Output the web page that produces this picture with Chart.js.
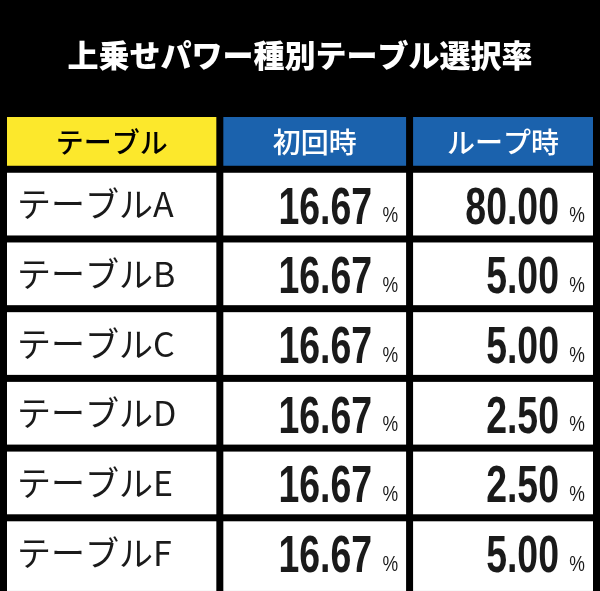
<!DOCTYPE html>
<html><head><meta charset="utf-8">
<script src="https://cdn.jsdelivr.net/npm/chart.js@4"></script>
<style>html,body{margin:0;background:#000;}#wrap{width:600px;height:591px;}</style>
</head><body><div id="wrap"><canvas id="c"></canvas></div>
<script>
const title = "上乗せパワー種別テーブル選択率";
const headers = ["テーブル", "初回時", "ループ時"];
const tables = ["テーブルA", "テーブルB", "テーブルC", "テーブルD", "テーブルE", "テーブルF"];
const firstRates = [16.67, 16.67, 16.67, 16.67, 16.67, 16.67];
const loopRates = [80.00, 5.00, 5.00, 2.50, 2.50, 5.00];

// column widths in x units, header height in y units
const colW = [1.14, 1, 0.985];
const headH = 0.8;
const GAP = 7;

// draw condensed bold text (no narrow font installed)
function condensed(ctx, text, rx, cy, sx) {
  ctx.save();
  ctx.translate(rx, cy);
  ctx.scale(sx, 1);
  ctx.textAlign = "right";
  ctx.fillText(text, 0, 0);
  ctx.restore();
}

const tablePlugin = {
  id: "table",
  beforeDraw(chart) {
    const { ctx, scales: { x, y } } = chart;
    ctx.save();
    ctx.fillStyle = "#000";
    ctx.fillRect(0, 0, chart.width, chart.height);
    ctx.fillStyle = "#fff";
    ctx.font = "900 31px 'Noto Sans CJK JP'";
    ctx.textAlign = "center";
    ctx.textBaseline = "middle";
    ctx.fillText(title, chart.width / 2, 55);

    const edges = [0];
    colW.forEach(w => edges.push(edges[edges.length - 1] + w));
    const cell = (c, y0, y1) => {
      const l = x.getPixelForValue(edges[c]), r = x.getPixelForValue(edges[c + 1]) - GAP;
      const t = y.getPixelForValue(y0), b = y.getPixelForValue(y1) - GAP;
      return { l, r, t, b };
    };
    headers.forEach((h, c) => {
      const k = cell(c, 0, headH);
      ctx.fillStyle = c === 0 ? "#fce82c" : "#1b62ad";
      ctx.fillRect(k.l, k.t, k.r - k.l, k.b - k.t);
      ctx.fillStyle = c === 0 ? "#000" : "#fff";
      ctx.font = "500 28px 'Noto Sans CJK JP'";
      ctx.textAlign = "center";
      ctx.fillText(h, (k.l + k.r) / 2, (k.t + k.b) / 2 + 1);
    });
    tables.forEach((name, i) => {
      const y0 = headH + i, y1 = headH + i + 1;
      const vals = [firstRates[i], loopRates[i]];
      for (let c = 0; c < 3; c++) {
        const k = cell(c, y0, y1 + (i === tables.length - 1 ? 0.1 : 0));
        ctx.fillStyle = "#fff";
        ctx.fillRect(k.l, k.t, k.r - k.l, k.b - k.t);
        const cy = y.getPixelForValue(y0) + (70 - GAP) / 2;
        ctx.fillStyle = "#1a1a1a";
        if (c === 0) {
          ctx.font = "34px 'Noto Sans CJK JP'";
          ctx.textAlign = "left";
          ctx.fillText(name, k.l + 10, cy);
        } else {
          ctx.font = "22px 'Liberation Sans'";
          condensed(ctx, "%", k.r - 8, cy + 12, 0.8);
          ctx.font = "bold 52px 'Liberation Sans'";
          condensed(ctx, vals[c - 1].toFixed(2), k.r - 34, cy + 5, 0.72);
        }
      }
    });
    ctx.restore();
  }
};

new Chart(document.getElementById("c"), {
  type: "bar",
  data: { labels: [], datasets: [{ data: [] }] },
  options: {
    responsive: true,
    maintainAspectRatio: false,
    animation: false,
    layout: { padding: { left: 7, right: 0, top: 117, bottom: 0 } },
    plugins: { legend: { display: false }, tooltip: { enabled: false } },
    scales: {
      x: { type: "linear", offset: false, min: 0, max: colW.reduce((a, b) => a + b, 0), display: false },
      y: { type: "linear", offset: false, reverse: true, min: 0, max: headH + tables.length, display: false }
    }
  },
  plugins: [tablePlugin]
});
</script></body></html>
